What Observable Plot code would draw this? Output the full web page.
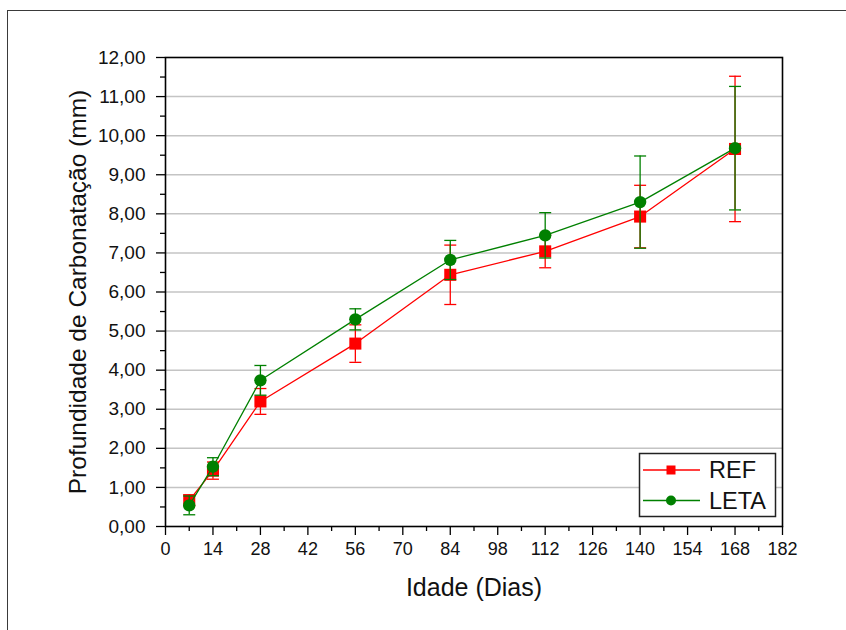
<!DOCTYPE html>
<html><head><meta charset="utf-8">
<script src="https://cdn.jsdelivr.net/npm/d3@7"></script>
<script src="https://cdn.jsdelivr.net/npm/@observablehq/plot@0.6"></script>
<style>
html,body{margin:0;padding:0;background:#fff;overflow:hidden;}
#wrap{position:relative;width:846px;height:630px;overflow:hidden;}
#wrap svg{position:absolute;left:0;top:0;}
#border{position:absolute;left:7px;top:10px;width:1000px;height:1000px;border:1.5px solid #3a3a3a;pointer-events:none;}
</style></head><body><div id="wrap"></div>
<script>
// ---- data ----
const days = [7, 14, 28, 56, 84, 112, 140, 168];
const refMean = [0.67, 1.43, 3.20, 4.68, 6.44, 7.04, 7.93, 9.66];
const refErr  = [0.14, 0.22, 0.33, 0.48, 0.76, 0.42, 0.80, 1.86];
const letaMean = [0.54, 1.53, 3.74, 5.30, 6.82, 7.45, 8.30, 9.68];
const letaErr  = [0.24, 0.23, 0.38, 0.27, 0.50, 0.58, 1.18, 1.58];
const seriesNames = ["REF", "LETA"];
const seriesColors = ["#ff0000", "#008000"];
const xTicks = [0, 14, 28, 42, 56, 70, 84, 98, 112, 126, 140, 154, 168, 182];
const xMinorTicks = [7, 21, 35, 49, 63, 77, 91, 105, 119, 133, 147, 161, 175];
const yTicks = [0, 1, 2, 3, 4, 5, 6, 7, 8, 9, 10, 11, 12];
const yMinorTicks = [0.5, 1.5, 2.5, 3.5, 4.5, 5.5, 6.5, 7.5, 8.5, 9.5, 10.5, 11.5];
const xTitle = "Idade (Dias)";
const yTitle = "Profundidade de Carbonatação (mm)";

const ref = days.map((d, i) => ({x: d, y: refMean[i], e: refErr[i]}));
const leta = days.map((d, i) => ({x: d, y: letaMean[i], e: letaErr[i]}));

const fmt = v => v.toFixed(2).replace(".", ",");
const capSymbol = {draw(ctx, size) { const w = Math.sqrt(size / Math.PI); ctx.moveTo(-w, 0); ctx.lineTo(w, 0); }};

function seriesMarks(data, color, symbol, r) {
  return [
    Plot.ruleX(data, {x: "x", y1: d => d.y - d.e, y2: d => d.y + d.e, stroke: color, strokeWidth: 1.3}),
    Plot.dot(data, {x: "x", y: d => d.y + d.e, symbol: capSymbol, r: 6, stroke: color, fill: "none", strokeWidth: 1.3}),
    Plot.dot(data, {x: "x", y: d => d.y - d.e, symbol: capSymbol, r: 6, stroke: color, fill: "none", strokeWidth: 1.3}),
    Plot.line(data, {x: "x", y: "y", stroke: color, strokeWidth: 1.3}),
    Plot.dot(data, {x: "x", y: "y", symbol, r, fill: color, stroke: "none"})
  ];
}

const chart = Plot.plot({
  width: 846,
  height: 630,
  marginLeft: 165,
  marginRight: 64,
  marginTop: 57,
  marginBottom: 104,
  style: {fontFamily: "'Liberation Sans', Arial, sans-serif", fontSize: "19px", color: "#111", background: "transparent"},
  x: {domain: [0, 182]},
  y: {domain: [0, 12]},
  marks: [
    Plot.ruleY(yTicks.filter(v => v > 0 && v < 12), {stroke: "#c4c4c4", strokeWidth: 1.5}),
    Plot.axisY({ticks: yTicks, tickSize: 9, tickPadding: 11, tickFormat: fmt, fontSize: 19, label: null, stroke: "#000", strokeWidth: 1.3}),
    Plot.axisY({ticks: yMinorTicks, tickSize: 5, tickFormat: () => "", label: null, stroke: "#000", strokeWidth: 1.3}),
    Plot.axisX({ticks: xTicks, tickSize: 9, tickPadding: 7, tickFormat: d => String(d), fontSize: 18, label: null, stroke: "#000", strokeWidth: 1.3}),
    Plot.axisX({ticks: xMinorTicks, tickSize: 5, tickFormat: () => "", label: null, stroke: "#000", strokeWidth: 1.3}),
    ...seriesMarks(ref, seriesColors[0], "square", 6.8),
    ...seriesMarks(leta, seriesColors[1], "circle", 6.2),
    Plot.frame({stroke: "#000", strokeWidth: 1.6}),
    Plot.text([xTitle], {frameAnchor: "bottom", lineAnchor: "middle", textAnchor: "middle", dy: 61, fontSize: 25, fill: "#111"}),
    Plot.text([yTitle], {frameAnchor: "left", lineAnchor: "middle", textAnchor: "middle", dx: -87, rotate: -90, fontSize: 24.5, fill: "#111"})
  ]
});

// legend
const svg = d3.select(chart);
const lg = svg.append("g").attr("text-anchor", "start");
lg.append("rect").attr("x", 639.5).attr("y", 453.5).attr("width", 136).attr("height", 63)
  .attr("fill", "#fff").attr("stroke", "#222").attr("stroke-width", 1.5);
seriesNames.forEach((name, i) => {
  const cy = 470 + i * 30.5;
  const c = seriesColors[i];
  lg.append("line").attr("x1", 643).attr("x2", 700).attr("y1", cy).attr("y2", cy).attr("stroke", c).attr("stroke-width", 1.3);
  if (i === 0) lg.append("rect").attr("x", 671 - 4.5).attr("y", cy - 4.5).attr("width", 9).attr("height", 9).attr("fill", c);
  else lg.append("circle").attr("cx", 671).attr("cy", cy).attr("r", 5).attr("fill", c);
  lg.append("text").attr("x", 709).attr("y", cy).attr("dy", "0.36em").attr("text-anchor", "start").attr("font-size", 23.5).attr("fill", "#111").text(name);
});

const wrap = document.getElementById("wrap");
wrap.appendChild(chart);
const b = document.createElement("div"); b.id = "border"; wrap.appendChild(b);
</script>
</body></html>
